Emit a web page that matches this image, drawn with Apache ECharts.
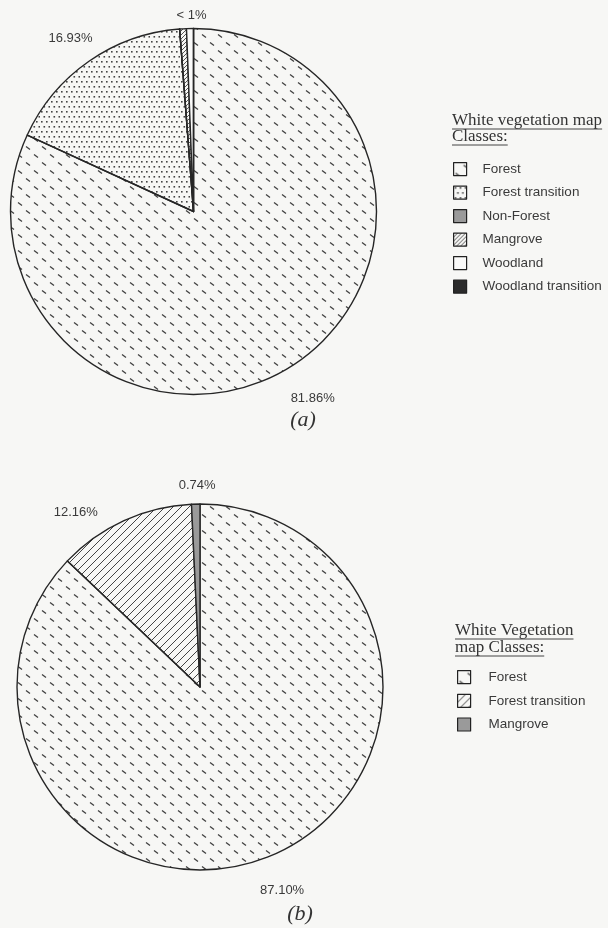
<!DOCTYPE html>
<html>
<head>
<meta charset="utf-8">
<script src="https://cdn.jsdelivr.net/npm/echarts@6/dist/echarts.min.js"></script>
<style>
  html, body { margin: 0; background: #f7f7f5; }
  #main { width: 608px; height: 928px; }
</style>
</head>
<body>
<div id="main"></div>
<script>
// (a) White vegetation map classes, percent of area
const classesA = ['Forest', 'Forest transition', 'Non-Forest', 'Mangrove', 'Woodland', 'Woodland transition']
const valuesA = [81.86, 16.93, 0, 0.6, 0.61, 0]
const labelledA = ['Forest', 'Forest transition', 'Mangrove']

// (b) White Vegetation map classes
const classesB = ['Forest', 'Forest transition', 'Mangrove']
const valuesB = [87.10, 12.16, 0.74]

// fill patterns (printed hatching)
function tile(w, h, draw) {
  const c = document.createElement('canvas')
  c.width = w
  c.height = h
  draw(c.getContext('2d'))
  return { image: c, repeat: 'repeat' }
}
function hatch(step, width, color) {
  return tile(step, step, ctx => {
    ctx.strokeStyle = color
    ctx.lineWidth = width
    ctx.beginPath()
    ctx.moveTo(-1, step + 1); ctx.lineTo(step + 1, -1)
    ctx.moveTo(-1, 1); ctx.lineTo(1, -1)
    ctx.moveTo(step - 1, step + 1); ctx.lineTo(step + 1, step - 1)
    ctx.stroke()
  })
}
const dashFill = tile(16, 16, ctx => {
  ctx.strokeStyle = '#404040'
  ctx.lineWidth = 1.3
  ctx.beginPath()
  ctx.moveTo(2, 10.5); ctx.lineTo(6, 13.5)
  ctx.moveTo(10, 2.5); ctx.lineTo(14, 5.5)
  ctx.stroke()
})
const dotFill = tile(10, 10, ctx => {
  const pts = [[1, 1], [6, 1], [3.5, 6], [8.5, 6]]
  ctx.fillStyle = '#444'
  pts.forEach(p => ctx.fillRect(p[0], p[1], 1.6, 1.6))
})

const fillsA = {
  'Forest': dashFill,
  'Forest transition': dotFill,
  'Non-Forest': '#9a9a9a',
  'Mangrove': hatch(4, 0.9, '#444'),
  'Woodland': '#fbfbfa',
  'Woodland transition': '#2b2b2b'
}
const fillsB = {
  'Forest': dashFill,
  'Forest transition': hatch(8, 1, '#444'),
  'Mangrove': '#9a9a9a'
}

// label placement: where the label is anchored, then small nudges to match the print
const placeA = { 'Forest transition': 'inside' }
const nudgeA = { 'Forest': [-12, 24], 'Forest transition': [-69, -96], 'Mangrove': [29, -3] }
const placeB = {}
const nudgeB = { 'Forest': [-21, 26], 'Forest transition': [-17, 1], 'Mangrove': [25, -9] }

const sans = '"Liberation Sans", Arial, sans-serif'
const serif = '"Liberation Serif", "Times New Roman", serif'
const measure = document.createElement('canvas').getContext('2d')
measure.font = '17px ' + serif

// underlined serif legend heading
function heading(x, lines, baselines) {
  const els = []
  lines.forEach((t, i) => {
    els.push({
      type: 'text',
      style: { x: x, y: baselines[i] - 5.5, text: t, font: '17px ' + serif, fill: '#333', textVerticalAlign: 'middle' }
    })
    els.push({
      type: 'line',
      shape: { x1: x, y1: baselines[i] + 3, x2: x + measure.measureText(t).width, y2: baselines[i] + 3 },
      style: { stroke: '#444', lineWidth: 1 }
    })
  })
  return els
}

function pieSeries(name, classes, values, fills, center, labelled, formatter, place, nudge) {
  return {
    name: name,
    type: 'pie',
    center: center,
    radius: 183,
    startAngle: 90,
    clockwise: true,
    avoidLabelOverlap: false,
    animation: false,
    silent: true,
    itemStyle: { borderColor: '#262626', borderWidth: 1.4 },
    label: {
      position: 'outside',
      formatter: formatter,
      fontFamily: sans,
      fontSize: 13,
      color: '#3a3a3a',
      overflow: 'none'
    },
    labelLine: { show: false, length: 10, length2: 0 },
    labelLayout: params => {
      const n = nudge[classes[params.dataIndex]] || [0, 0]
      return { dx: n[0], dy: n[1] }
    },
    data: classes.map((c, i) => ({
      name: c,
      value: values[i],
      itemStyle: { color: fills[c] },
      label: { show: labelled.indexOf(c) >= 0, position: place[c] || 'outside' }
    }))
  }
}

const chart = echarts.init(document.getElementById('main'), null, { renderer: 'canvas' })
chart.setOption({
  backgroundColor: '#f7f7f5',
  legend: [
    {
      orient: 'vertical',
      left: 453,
      top: 162,
      padding: 0,
      itemWidth: 13,
      itemHeight: 13,
      itemGap: 9.3,
      icon: 'rect',
      selectedMode: false,
      data: classesA,
      itemStyle: { borderColor: '#222', borderWidth: 1.2 },
      textStyle: { fontFamily: sans, fontSize: 13.5, color: '#3a3a3a', padding: [0, 0, 0, 11] }
    },
    {
      orient: 'vertical',
      left: 457,
      top: 670,
      padding: 0,
      itemWidth: 13,
      itemHeight: 13,
      itemGap: 9.5,
      icon: 'rect',
      selectedMode: false,
      data: classesB.map(c => ({ name: c, itemStyle: { color: fillsB[c] } })),
      itemStyle: { borderColor: '#222', borderWidth: 1.2 },
      textStyle: { fontFamily: sans, fontSize: 13.5, color: '#3a3a3a', padding: [0, 0, 0, 13] }
    }
  ],
  graphic: [
    ...heading(452, ['White vegetation map', 'Classes:'], [126, 142]),
    ...heading(455, ['White Vegetation', 'map Classes:'], [636, 653]),
    {
      type: 'text',
      style: { x: 303, y: 420, text: '(a)', font: 'italic 22px ' + serif, fill: '#333', textAlign: 'center', textVerticalAlign: 'middle' }
    },
    {
      type: 'text',
      style: { x: 300, y: 914, text: '(b)', font: 'italic 22px ' + serif, fill: '#333', textAlign: 'center', textVerticalAlign: 'middle' }
    }
  ],
  series: [
    pieSeries('a', classesA, valuesA, fillsA, [193.5, 211.5], labelledA,
      p => p.value < 1 ? '< 1%' : p.value.toFixed(2) + '%', placeA, nudgeA),
    pieSeries('b', classesB, valuesB, fillsB, [200, 687], classesB,
      p => p.value.toFixed(2) + '%', placeB, nudgeB)
  ]
})
</script>
</body>
</html>
